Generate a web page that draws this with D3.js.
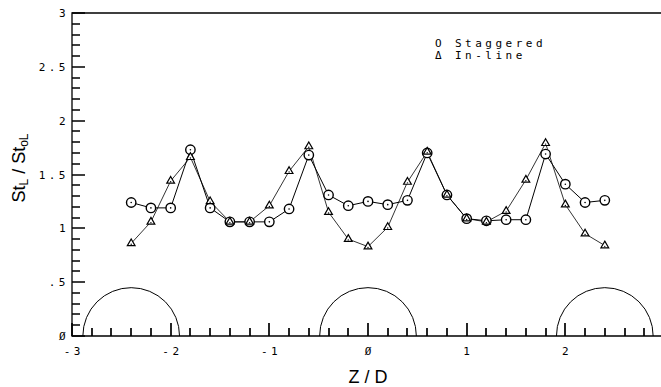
<!DOCTYPE html>
<html>
<head>
<meta charset="utf-8">
<script src="https://cdn.jsdelivr.net/npm/d3@7"></script>
<style>
  body { margin: 0; background: #fff; }
  svg { display: block; }
  .plotter { font-family: "DejaVu Sans Mono", monospace; font-size: 11px; letter-spacing: 3.5px; fill: #000; }
  .label { font-family: "Liberation Sans", Arial, sans-serif; font-size: 18px; fill: #000; }
</style>
</head>
<body>
<svg id="chart" width="661" height="387"></svg>
<script>
// Axial position Z/D of each measurement
const zd = [-2.4, -2.2, -2.0, -1.8, -1.6, -1.4, -1.2, -1.0, -0.8, -0.6, -0.4, -0.2, 0,
  0.2, 0.4, 0.6, 0.8, 1.0, 1.2, 1.4, 1.6, 1.8, 2.0, 2.2, 2.4];

// StL / StoL for each arrangement
const staggered = [1.24, 1.19, 1.19, 1.73, 1.19, 1.06, 1.06, 1.06, 1.18, 1.68, 1.31, 1.21, 1.25,
  1.22, 1.26, 1.70, 1.31, 1.09, 1.07, 1.08, 1.08, 1.69, 1.41, 1.24, 1.26];
const inLine = [0.86, 1.06, 1.44, 1.66, 1.25, 1.06, 1.06, 1.21, 1.53, 1.76, 1.15, 0.90, 0.83,
  1.01, 1.43, 1.71, 1.31, 1.09, 1.06, 1.16, 1.45, 1.79, 1.22, 0.95, 0.84];

// Tube outlines along the bottom
const tubeCenters = [-2.4, 0, 2.4];
const tubeRadius = 0.49;

const xTicks = [-3, -2, -1, 0, 1, 2];
const xTickLabels = ['-3', '-2', '-1', 'Ø', '1', '2'];
const yTicks = [0, 0.5, 1, 1.5, 2, 2.5, 3];
const yTickLabels = ['Ø', '.5', '1', '1.5', '2', '2.5', '3'];

const svg = d3.select('#chart');

const x = d3.scaleLinear().domain([-3, 3]).range([72, 664]);
const y = d3.scaleLinear().domain([0, 3]).range([336, 13]);

// Frame (right side falls outside the window)
svg.append('path')
  .attr('d', `M${x(3)},${y(3)} H${x(-3)} V${y(0)} H${x(3)}`)
  .attr('fill', 'none').attr('stroke', '#000').attr('stroke-width', 1.3);

// Ticks, pointing inward
const xMinor = d3.range(-30, 31, 2).map((d) => d / 10).filter((d) => Math.abs(d % 1) > 1e-6);
const yMinor = d3.range(0, 31).map((d) => d / 10).filter((d) => Math.abs((d * 2) % 1) > 1e-6);

const xTickPath = (vals, len) => vals.map((d) => `M${Math.round(x(d))},${y(0)} v${-len}`).join(' ');
const yTickPath = (vals, len) => vals.map((d) => `M${x(-3)},${Math.round(y(d))} h${len}`).join(' ');

const ticks = svg.append('g').attr('class', 'ticks');
ticks.append('path').attr('d', xTickPath(xMinor, 8) + ' ' + xTickPath(xTicks, 13))
  .attr('fill', 'none').attr('stroke', '#000').attr('stroke-width', 1.7);
ticks.append('path').attr('d', yTickPath(yMinor, 8) + ' ' + yTickPath(yTicks, 13))
  .attr('fill', 'none').attr('stroke', '#000').attr('stroke-width', 1.7);

// Tick labels
svg.append('g').selectAll('text').data(xTicks).join('text')
  .attr('class', 'plotter')
  .attr('x', (d) => x(d) + 1.75).attr('y', y(0) + 19)
  .attr('text-anchor', 'middle')
  .text((d, i) => xTickLabels[i]);
svg.append('g').selectAll('text').data(yTicks).join('text')
  .attr('class', 'plotter')
  .attr('x', x(-3) - 3).attr('y', (d) => y(d) + 4)
  .attr('text-anchor', 'end')
  .text((d, i) => yTickLabels[i]);

// Tube half-circles
svg.append('g').selectAll('path').data(tubeCenters).join('path')
  .attr('d', (c) => {
    const r = x(c + tubeRadius) - x(c);
    return `M${x(c - tubeRadius)},${y(0)} A${r},${r} 0 0 1 ${x(c + tubeRadius)},${y(0)}`;
  })
  .attr('fill', 'none').attr('stroke', '#000').attr('stroke-width', 1);

// Series lines
const line = (vals) => d3.line().x((d, i) => x(zd[i])).y((d) => y(d))(vals);
svg.append('path').attr('d', line(staggered))
  .attr('fill', 'none').attr('stroke', '#000').attr('stroke-width', 1);
svg.append('path').attr('d', line(inLine))
  .attr('fill', 'none').attr('stroke', '#000').attr('stroke-width', 0.8);

// Circle markers
const circ = svg.append('g').selectAll('g').data(staggered).join('g')
  .attr('transform', (d, i) => `translate(${x(zd[i])},${y(d)})`);
circ.append('circle').attr('r', 4.7)
  .attr('fill', '#fff').attr('stroke', '#000').attr('stroke-width', 1.4);
circ.append('circle').attr('r', 0.8).attr('fill', '#000');

// Triangle markers
const tri = svg.append('g').selectAll('g').data(inLine).join('g')
  .attr('transform', (d, i) => `translate(${x(zd[i])},${y(d)})`);
tri.append('path').attr('d', d3.symbol(d3.symbolTriangle, 26)())
  .attr('fill', '#fff').attr('stroke', '#000').attr('stroke-width', 1.2);
tri.append('circle').attr('r', 0.7).attr('cy', 0.8).attr('fill', '#000');

// Legend
const legend = svg.append('g');
legend.append('text').attr('class', 'plotter').attr('x', 435).attr('y', 47).text('O');
legend.append('text').attr('class', 'plotter').attr('x', 455).attr('y', 47).text('Staggered');
legend.append('text').attr('class', 'plotter').attr('x', 435).attr('y', 59).text('Δ');
legend.append('text').attr('class', 'plotter').attr('x', 455).attr('y', 59).text('In-line');

// Axis titles
svg.append('text').attr('class', 'label')
  .attr('x', 368).attr('y', 383).attr('text-anchor', 'middle').text('Z / D');

const yTitle = svg.append('text').attr('class', 'label')
  .attr('transform', 'translate(25,168) rotate(-90)').attr('text-anchor', 'middle');
yTitle.append('tspan').text('St');
yTitle.append('tspan').attr('font-size', 12).attr('dy', 3).text('L');
yTitle.append('tspan').attr('dy', -3).text(' / St');
yTitle.append('tspan').attr('font-size', 12).attr('dy', 3).text('oL');
</script>
</body>
</html>
